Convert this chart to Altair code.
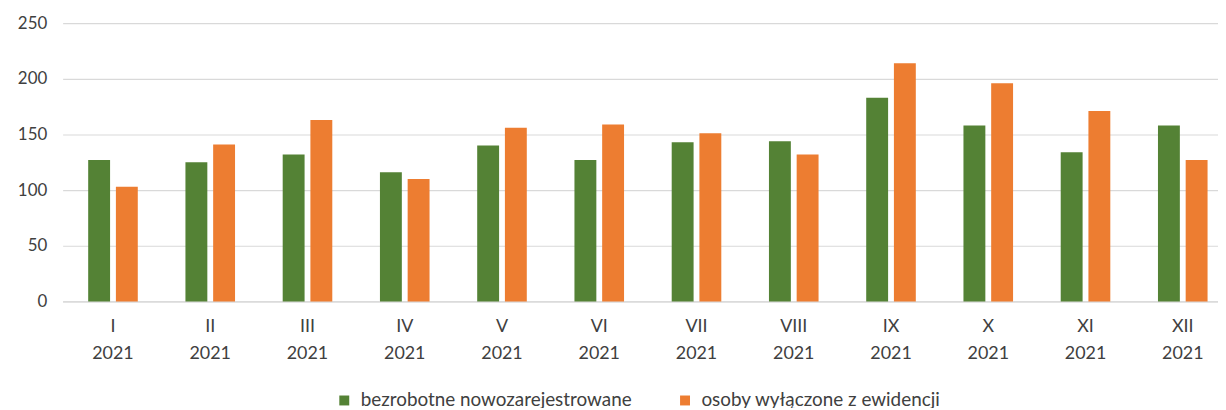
import altair as alt
import pandas as pd

months = ["I", "II", "III", "IV", "V", "VI", "VII", "VIII", "IX", "X", "XI", "XII"]
year = "2021"
series_names = ["bezrobotne nowozarejestrowane", "osoby wyłączone z ewidencji"]
registered = [127, 125, 132, 116, 140, 127, 143, 144, 183, 158, 134, 158]
removed = [103, 141, 163, 110, 156, 159, 151, 132, 214, 196, 171, 127]
colors = ["#548235", "#ED7D31"]
y_ticks = [0, 50, 100, 150, 200, 250]

rows = []
for m, a, b in zip(months, registered, removed):
    lab = m + "\n" + year
    rows.append({"label": lab, "series": series_names[0], "value": a})
    rows.append({"label": lab, "series": series_names[1], "value": b})
df = pd.DataFrame(rows)
order = [m + "\n" + year for m in months]

FONT = "Lato"

chart = alt.Chart(df).mark_bar().encode(
    x=alt.X("label:N", sort=order, title=None,
            scale=alt.Scale(paddingInner=0.49, paddingOuter=0.185, align=0.71, round=False),
            axis=alt.Axis(labelExpr="split(datum.value, '\\n')", labelAngle=0,
                          labelLineHeight=28, labelPadding=16, ticks=False,
                          domain=True, domainColor="#d9d9d9", domainWidth=1.5,
                          labelFont=FONT, labelFontSize=18, labelColor="#404040", grid=False)),
    xOffset=alt.XOffset("series:N", sort=series_names,
                        scale=alt.Scale(paddingInner=0.21, round=False)),
    y=alt.Y("value:Q", title=None,
            scale=alt.Scale(domain=[0, 250], nice=False),
            axis=alt.Axis(values=y_ticks, domain=False, ticks=False, labelPadding=16,
                          gridColor="#d9d9d9", gridWidth=1.2,
                          labelFont=FONT, labelFontSize=17, labelColor="#404040")),
    color=alt.Color("series:N", sort=series_names,
                    scale=alt.Scale(domain=series_names, range=colors),
                    legend=alt.Legend(title=None, orient="none", direction="horizontal",
                                      legendX=274, legendY=370,
                                      symbolType="square", symbolSize=100, symbolStrokeWidth=0,
                                      labelFont=FONT, labelFontSize=19, labelColor="#404040",
                                      labelLimit=400, columnPadding=44, labelOffset=7)),
).properties(
    width=1163,
    height=280,
    autosize=alt.AutoSizeParams(type="none"),
    padding={"left": 55, "top": 14, "right": 0, "bottom": 106},
).configure_view(stroke=None)

chart.save("out.html", embed_options={"renderer": "svg", "actions": False})
